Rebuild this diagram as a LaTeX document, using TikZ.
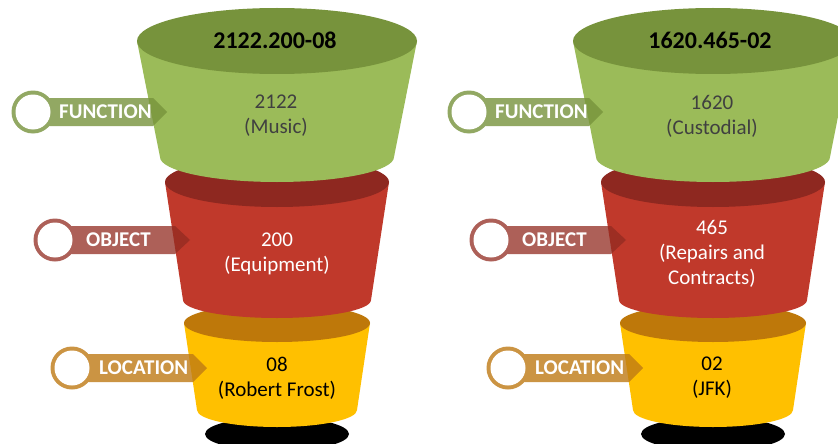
\documentclass[tikz,border=0pt]{standalone}
\usepackage{fontspec}
\setmainfont{Carlito}
\definecolor{gBody}{HTML}{9BBB59}
\definecolor{gTop}{HTML}{77933C}
\definecolor{rBody}{HTML}{C0392B}
\definecolor{rTop}{HTML}{8E2820}
\definecolor{yBody}{HTML}{FFC000}
\definecolor{yTop}{HTML}{BE780A}
\definecolor{gTag}{HTML}{77933C}
\definecolor{rTag}{HTML}{922B21}
\definecolor{yTag}{HTML}{BE7A14}
\definecolor{darktext}{HTML}{404040}
\newcommand\funnelseg[9]{%
  \fill[#8] ({#1-#3},#2) -- ({#1-#6},#5) arc[start angle=180,end angle=0,x radius=#6,y radius=#7] -- ({#1+#3},#2) -- cycle;
  \fill[#9] (#1,#2) ellipse[x radius=#3,y radius=#4];
}
\newcommand\tagshape[7]{%
  \fill[#5,opacity=#6] (#1,{#2-14}) -- (#3,{#2-14}) -- (#4,#2) -- (#3,{#2+14}) -- (#1,{#2+14}) -- cycle (#1,#2) circle[radius=21.5];
  \fill[white] (#1,#2) circle[radius=17.5];
}
\begin{document}
\begin{tikzpicture}[x=1pt,y=-1pt,
  bodytext/.style={align=center,font=\fontsize{21}{25}\selectfont},
  titletext/.style={font=\fontsize{24}{28}\selectfont\bfseries,text=black},
  tagtext/.style={anchor=west,text=white,font=\fontsize{21}{24}\selectfont\bfseries,inner sep=0pt}]
\useasboundingbox (0,0) rectangle (838,444);
\clip (0,0) rectangle (838,444);
\fill[white] (0,0) rectangle (838,444);
\foreach \cx/\off in {277/0,713/436}{
  \fill[black] (\cx,434) ellipse[x radius=72,y radius=17];
  \funnelseg{\cx}{323}{93}{19}{410}{80}{17}{yBody}{yTop}
  \funnelseg{\cx}{182}{112}{25}{300}{94}{18}{rBody}{rTop}
  \funnelseg{\cx}{41}{140}{33}{157}{117}{25}{gBody}{gTop}
}
% tags
\foreach \off in {0,436}{
  \tagshape{\off+33}{112}{\off+153}{\off+167}{gTag}{0.8}{}
  \tagshape{\off+55}{240}{\off+175}{\off+190}{rTag}{0.75}{}
  \tagshape{\off+72}{368}{\off+193}{\off+207}{yTag}{0.8}{}
}
\node[tagtext] (fl) at (59,112) {FUNCTION};
\node[tagtext] (ol) at (86,240) {OBJECT};
\node[tagtext] (ll) at (99,368) {LOCATION};
\node[tagtext] (fr) at (495,112) {FUNCTION};
\node[tagtext] (or) at (522,240) {OBJECT};
\node[tagtext] (lr) at (535,368) {LOCATION};
% titles
\node[titletext] (t1) at (275,40) {2122.200-08};
\node[titletext] (t2) at (710,40) {1620.465-02};
% body texts
\node[bodytext,text=darktext] (g1) at (276,116) {2122\\(Music)};
\node[bodytext,text=white] (r1) at (277,254) {200\\(Equipment)};
\node[bodytext,text=black] (y1) at (277,378) {08\\(Robert Frost)};
\node[bodytext,text=darktext] (g2) at (712,116) {1620\\(Custodial)};
\node[bodytext,text=white] (r2) at (712,254) {465\\(Repairs and\\Contracts)};
\node[bodytext,text=black] (y2) at (712,378) {02\\(JFK)};
\end{tikzpicture}
\end{document}
